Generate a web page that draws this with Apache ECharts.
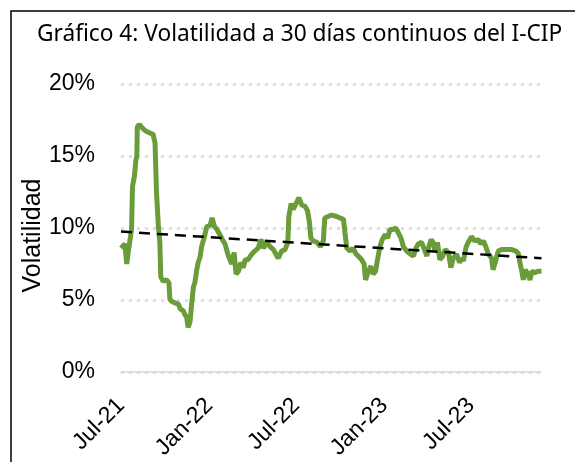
<!DOCTYPE html>
<html>
<head>
<meta charset="utf-8">
<script src="https://cdn.jsdelivr.net/npm/echarts@6/dist/echarts.min.js"></script>
<style>
html,body{margin:0;padding:0;background:#fff;}
#chart{width:575px;height:462px;}
</style>
</head>
<body>
<div id="chart"></div>
<script>
const START = '2021-07-01';
const END = '2023-11-24';
const dayOffsets = [0,3,8,12,15,19,22,24,28,31,33,34,38,43,49,54,60,67,71,74,78,81,83,88,95,100,102,106,113,120,123,130,133,137,140,144,147,151,154,158,161,165,168,174,179,186,190,195,200,206,213,217,224,231,236,240,245,250,255,259,265,273,279,286,292,297,304,311,318,323,328,335,342,348,350,355,359,365,371,377,384,389,393,396,401,409,416,422,425,432,439,450,457,464,467,471,478,484,490,495,502,507,510,516,521,526,531,535,540,545,551,556,561,568,573,578,584,589,596,603,610,615,620,627,633,638,642,647,651,655,660,665,671,676,683,688,693,700,706,711,714,720,724,731,738,745,750,756,761,766,773,776,782,787,794,804,815,824,829,832,836,839,843,847,853,857,863,870,877];
const volatility = [8.6,8.5,8.9,7.5,8.3,8.3,9.9,12.9,13.6,14.7,15.0,17.0,17.2,17.0,16.8,16.7,16.6,16.5,15.9,12.5,10.1,9.0,6.6,6.3,6.4,6.2,5.05,4.9,4.8,4.7,4.4,4.25,4.0,3.8,3.1,3.5,4.6,5.9,6.2,7.1,7.6,8.0,8.7,9.4,10.1,10.2,10.7,10.1,9.9,9.55,9.1,8.9,8.05,7.5,8.3,6.8,7.0,7.6,7.25,7.8,7.8,8.2,8.4,8.6,9.2,8.6,9.0,8.7,8.5,8.2,7.9,8.4,8.5,9.0,10.8,11.7,11.3,11.7,12.1,11.6,11.5,11.2,10.4,9.3,9.1,9.0,8.7,9.1,10.7,10.8,10.9,10.8,10.7,10.6,9.7,8.6,8.4,8.6,8.2,8.05,7.8,7.5,6.4,7.0,7.35,6.8,7.0,7.8,8.7,9.2,9.55,9.3,9.9,9.9,10.0,9.7,9.3,8.7,8.4,8.2,8.05,8.6,8.9,9.0,8.5,8.05,8.7,9.2,9.0,8.4,9.0,7.8,8.05,8.5,8.3,7.25,7.9,8.2,7.6,7.9,7.7,8.7,9.0,9.4,9.1,9.2,8.9,9.1,8.7,8.2,7.9,7.1,7.8,8.4,8.5,8.5,8.5,8.4,8.2,7.6,7.0,6.4,7.1,6.9,6.4,7.0,6.9,7.0,7.0];
const trendDays = [0, 877];
const trendValues = [9.75, 7.9];
const tickDates = ['2021-07-01','2022-01-01','2022-07-01','2023-01-01','2023-07-01'];
const tickLabels = ['Jul-21','Jan-22','Jul-22','Jan-23','Jul-23'];
const yTicks = [0,5,10,15,20];

const DAY = 86400000;
const startTs = Date.parse(START + 'T00:00:00Z');
const endTs = Date.parse(END + 'T00:00:00Z');
const toTs = d => startTs + d * DAY;
const tickTs = tickDates.map(s => Date.parse(s + 'T00:00:00Z'));

const chart = echarts.init(document.getElementById('chart'));
chart.setOption({
  animation: false,
  backgroundColor: '#fff',
  title: {
    text: 'Gráfico 4: Volatilidad a 30 días continuos del I-CIP',
    left: 32, top: 18,
    textStyle: {fontFamily: 'Noto Sans', fontSize: 22.7, fontWeight: 'normal', color: '#000'}
  },
  graphic: [{
    type: 'rect', shape: {x: 11, y: 11, width: 620, height: 520},
    style: {fill: null, stroke: '#000', lineWidth: 1.5}, silent: true
  }],
  grid: {left: 121, right: 34, top: 84, bottom: 89},
  xAxis: {
    type: 'value',
    min: startTs, max: endTs,
    axisLine: {show: true, lineStyle: {color: '#d9d9d9', width: 1.5}},
    axisTick: {show: false},
    splitLine: {show: false},
    axisLabel: {
      customValues: tickTs,
      rotate: 45, margin: 30,
      fontFamily: 'Liberation Sans', fontSize: 23, color: '#000',
      formatter: v => { const i = tickTs.indexOf(v); return i >= 0 ? tickLabels[i] : ''; }
    }
  },
  yAxis: {
    type: 'value', min: 0, max: 20, interval: 5,
    name: 'Volatilidad', nameLocation: 'middle', nameGap: 75, nameRotate: 90,
    nameMoveOverlap: false,
    nameTextStyle: {fontFamily: 'Liberation Sans', fontSize: 25, color: '#000', padding: [0, 15, 0, 0]},
    axisLine: {show: false}, axisTick: {show: false},
    axisLabel: {
      fontFamily: 'Liberation Sans', fontSize: 23, color: '#000', margin: 26,
      formatter: v => yTicks.includes(v) ? v + '%' : ''
    },
    splitLine: {lineStyle: {color: '#d9d9d9', width: 2.5, type: [3, 5]}}
  },
  series: [{
    type: 'line',
    data: dayOffsets.map((d, i) => [toTs(d), volatility[i]]),
    showSymbol: false, smooth: false,
    lineStyle: {color: '#6a9c3a', width: 5},
    z: 2
  }, {
    type: 'line',
    data: trendDays.map((d, i) => [toTs(d), trendValues[i]]),
    showSymbol: false,
    lineStyle: {color: '#000', width: 2.5, type: [11, 7]},
    z: 3
  }]
});
</script>
</body>
</html>
